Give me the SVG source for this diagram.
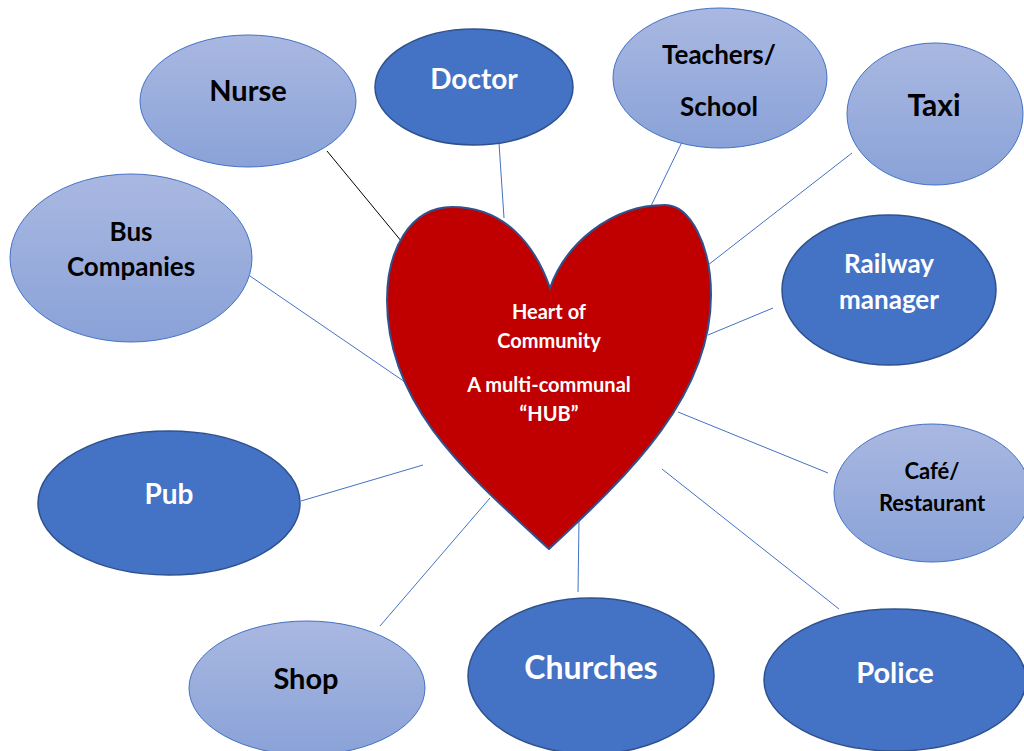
<svg xmlns="http://www.w3.org/2000/svg" width="1024" height="751" viewBox="0 0 1024 751">
<defs>
<linearGradient id="lg" x1="0" y1="0" x2="0" y2="1">
<stop offset="0" stop-color="#A9B8E1"/>
<stop offset="1" stop-color="#8AA2D8"/>
</linearGradient>
</defs>
<style>
.light{fill:url(#lg);stroke:#4472C4;stroke-width:1}
.dark{fill:#4472C4;stroke:#2F528F;stroke-width:1.5}
.t{font-family:Lato,"Open Sans",sans-serif;font-weight:bold;text-anchor:middle}
.tb{fill:#000}
.tw{fill:#fff}
.c{stroke:#4472C4;stroke-width:1;fill:none}
</style>
<rect width="1024" height="751" fill="#fff"/>
<g id="connectors">
<line x1="327" y1="151" x2="402" y2="242" stroke="#000" stroke-width="1"/>
<line class="c" x1="499" y1="143" x2="504" y2="218"/>
<line class="c" x1="683" y1="140" x2="650" y2="208"/>
<line class="c" x1="852" y1="153" x2="708" y2="265"/>
<line class="c" x1="773" y1="308" x2="708" y2="335"/>
<line class="c" x1="678" y1="412" x2="828" y2="473"/>
<line class="c" x1="662" y1="469" x2="839" y2="609"/>
<line class="c" x1="579" y1="520" x2="578" y2="592"/>
<line class="c" x1="490" y1="498" x2="380" y2="626"/>
<line class="c" x1="301" y1="501" x2="423" y2="465"/>
<line class="c" x1="247" y1="274" x2="405" y2="382"/>
</g>
<g id="heart">
<path d="M550 288 C535 245 505 207 452 207 C410 207 387 250 387 300 C387 405 465 472 549 549 C632 472 711 395 711 295 C711 245 690 205 665 205 C610 205 565 245 550 288 Z" fill="#C00000" stroke="#2F528F" stroke-width="2"/>
<text class="t tw" font-size="20" x="549" y="319">Heart of</text>
<text class="t tw" font-size="20" x="549" y="348">Community</text>
<text class="t tw" font-size="20" x="549" y="392">A multi-communal</text>
<text class="t tw" font-size="20" x="549" y="421">“HUB”</text>
</g>
<g id="nurse">
<ellipse class="light" cx="248" cy="101" rx="108" ry="66"/>
<text class="t tb" font-size="29" x="248" y="101">Nurse</text>
</g>
<g id="doctor">
<ellipse class="dark" cx="474" cy="87" rx="99" ry="58"/>
<text class="t tw" font-size="28" x="474" y="89">Doctor</text>
</g>
<g id="teachers">
<ellipse class="light" cx="720" cy="78" rx="107" ry="70"/>
<text class="t tb" font-size="26" x="719" y="64">Teachers/</text>
<text class="t tb" font-size="26" x="719" y="116">School</text>
</g>
<g id="taxi">
<ellipse class="light" cx="935" cy="114" rx="88" ry="71"/>
<text class="t tb" font-size="30" x="934" y="116">Taxi</text>
</g>
<g id="bus">
<ellipse class="light" cx="131" cy="258" rx="121" ry="84"/>
<text class="t tb" font-size="26" x="131" y="241">Bus</text>
<text class="t tb" font-size="26" x="131" y="276">Companies</text>
</g>
<g id="railway">
<ellipse class="dark" cx="889" cy="290" rx="107" ry="75"/>
<text class="t tw" font-size="26" x="889" y="273">Railway</text>
<text class="t tw" font-size="26" x="889" y="309">manager</text>
</g>
<g id="cafe">
<ellipse class="light" cx="932" cy="493" rx="98" ry="69"/>
<text class="t tb" font-size="22" x="932" y="479">Café/</text>
<text class="t tb" font-size="22" x="932" y="511">Restaurant</text>
</g>
<g id="pub">
<ellipse class="dark" cx="169" cy="503" rx="131" ry="72"/>
<text class="t tw" font-size="28" x="169" y="504">Pub</text>
</g>
<g id="shop">
<ellipse class="light" cx="307" cy="688" rx="118" ry="67"/>
<text class="t tb" font-size="29" x="306" y="689">Shop</text>
</g>
<g id="churches">
<ellipse class="dark" cx="591" cy="676" rx="123" ry="78"/>
<text class="t tw" font-size="32" x="591" y="679">Churches</text>
</g>
<g id="police">
<ellipse class="dark" cx="895" cy="680" rx="131" ry="71"/>
<text class="t tw" font-size="29" x="895" y="683">Police</text>
</g>
</svg>
